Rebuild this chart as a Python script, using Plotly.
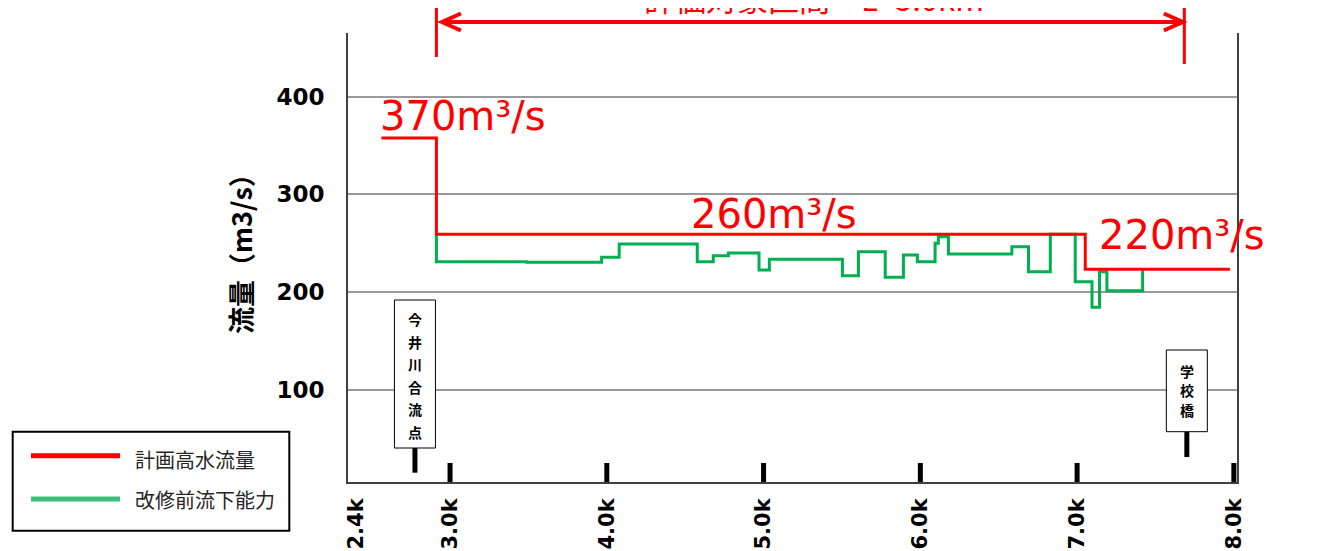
import plotly.graph_objects as go

# ---------------- data ----------------
series_names = ["計画高水流量", "改修前流下能力"]

# 計画高水流量 (step line, values at start of each step)
red_km = [2.562, 2.913, 7.052, 7.975]
red_q = [357.6, 259.0, 223.2, 223.2]

# 改修前流下能力 (step line)
green_km = [2.913, 2.913, 3.488, 3.967, 4.079, 4.577, 4.679, 4.775, 4.971, 5.037,
            5.503, 5.605, 5.776, 5.892, 5.981, 6.094, 6.115, 6.179, 6.584, 6.690,
            6.829, 6.988, 7.095, 7.143, 7.190, 7.418]
green_q = [259.0, 231.0, 230.4, 235.5, 249.1, 231.0, 237.2, 239.9, 222.5, 233.5,
           216.7, 241.3, 215.1, 237.9, 231.0, 249.8, 256.6, 238.9, 246.4, 220.8,
           259.0, 210.6, 184.4, 220.8, 201.3, 223.0]

x_tick_vals = [2.4, 3, 4, 5, 6, 7, 8]
x_tick_text = ["2.4k", "3.0k", "4.0k", "5.0k", "6.0k", "7.0k", "8.0k"]
x_mark_vals = [3, 4, 5, 6, 7, 8]
y_tick_vals = [100, 200, 300, 400]
y_tick_text = ["100", "200", "300", "400"]

flow_labels = ["370m³/s", "260m³/s", "220m³/s"]
landmark_names = ["今井川合流点", "学校橋"]
landmark_km = [2.776, 7.70]
section_km = [2.913, 7.684]
section_label = "評価対象区間　L=5.0km"
y_title = "流量（m3/s）"

# ---------------- layout helpers ----------------
OFF = 8  # page body margin
W_PX, H_PX = 1335 - OFF, 551 - OFF
L, R, T, B = 348, 1237, 33, 482          # screen pixels of the plot area
PW, PH = R - L, B - T
X_RANGE = [2.349, 8.02]
Y_RANGE = [5.6, 465.0]


def px(x):
    return (x - L) / PW


def py(y):
    return (B - y) / PH


def km_to_px(k):
    return L + (k - X_RANGE[0]) / (X_RANGE[1] - X_RANGE[0]) * PW


RED = "#FF0000"
GREEN = "#00B050"
CJK = "Noto Sans CJK JP"
NUMF = "DejaVu Sans"

fig = go.Figure()
fig.add_trace(go.Scatter(x=green_km, y=green_q, mode="lines", line_shape="hv",
                         line=dict(color=GREEN, width=3), name=series_names[1],
                         showlegend=False))
fig.add_trace(go.Scatter(x=red_km, y=red_q, mode="lines", line_shape="hv",
                         line=dict(color=RED, width=3), name=series_names[0],
                         showlegend=False))

shapes = []
annotations = []

# thick tick marks on x axis
for k in x_mark_vals:
    shapes.append(dict(type="line", xref="x", yref="paper", x0=k, x1=k,
                       y0=0, y1=19 / PH, line=dict(color="black", width=5)))

# landmark boxes
box_specs = [
    dict(y0=300, y1=448, stem_end=472.7, char_y0=319.2, pitch=22.5),
    dict(y0=350, y1=431.7, stem_end=457, char_y0=370.5, pitch=19.5),
]
half_w_km = 20.5 / PW * (X_RANGE[1] - X_RANGE[0])
for name, k, spec in zip(landmark_names, landmark_km, box_specs):
    shapes.append(dict(type="line", xref="x", yref="paper", x0=k, x1=k,
                       y0=py(spec["y1"]), y1=py(spec["stem_end"]),
                       line=dict(color="black", width=5), layer="above"))
    shapes.append(dict(type="rect", xref="x", yref="paper",
                       x0=k - half_w_km, x1=k + half_w_km,
                       y0=py(spec["y0"]), y1=py(spec["y1"]),
                       line=dict(color="black", width=1), fillcolor="white",
                       layer="above"))
    for i, ch in enumerate(name):
        annotations.append(dict(xref="x", yref="paper", x=k,
                                y=py(spec["char_y0"] + i * spec["pitch"]),
                                text=ch, showarrow=False,
                                xanchor="center", yanchor="middle",
                                font=dict(family=CJK, size=14, color="black",
                                          weight="bold")))

# evaluation section markers
shapes.append(dict(type="line", xref="x", yref="paper", x0=section_km[0], x1=section_km[0],
                   y0=py(-2), y1=py(57), line=dict(color=RED, width=3)))
shapes.append(dict(type="line", xref="x", yref="paper", x0=section_km[1], x1=section_km[1],
                   y0=py(-2), y1=py(64), line=dict(color=RED, width=3)))
xl = km_to_px(section_km[0]) + 5.5
xr = km_to_px(section_km[1]) - 1.5
ya = 22
shapes.append(dict(type="line", xref="paper", yref="paper", x0=px(xl), x1=px(xr),
                   y0=py(ya), y1=py(ya), line=dict(color=RED, width=4)))
shapes.append(dict(type="path", xref="paper", yref="paper",
                   path=f"M {px(xl + 19)},{py(ya - 8.5)} L {px(xl)},{py(ya)} L {px(xl + 19)},{py(ya + 8.5)}",
                   line=dict(color=RED, width=4)))
shapes.append(dict(type="path", xref="paper", yref="paper",
                   path=f"M {px(xr - 19)},{py(ya - 8.5)} L {px(xr)},{py(ya)} L {px(xr - 19)},{py(ya + 8.5)}",
                   line=dict(color=RED, width=4)))
annotations.append(dict(xref="paper", yref="paper", x=px(813.5), y=py(22),
                        text=section_label, showarrow=False,
                        xanchor="center", yanchor="bottom",
                        font=dict(family=CJK, size=31, color=RED)))

# flow value labels
for txt, (cx, cy) in zip(flow_labels, [(462.5, 116), (773.5, 214), (1181.5, 235)]):
    annotations.append(dict(xref="paper", yref="paper", x=px(cx), y=py(cy),
                            text=txt, showarrow=False, xanchor="center",
                            yanchor="middle",
                            font=dict(family=NUMF, size=40, color=RED)))

# y axis title
annotations.append(dict(xref="paper", yref="paper", x=px(240), y=py(247),
                        text=y_title, textangle=-90, showarrow=False,
                        xanchor="center", yanchor="middle",
                        font=dict(family=CJK, size=27, color="black", weight="bold")))

# manual legend
shapes.append(dict(type="rect", xref="paper", yref="paper",
                   x0=px(12.7), x1=px(289.3), y0=py(431.7), y1=py(530.7),
                   line=dict(color="black", width=2), fillcolor="white"))
leg_colors = [RED, "rgb(60,190,120)"]
leg_y = [455.7, 499]
leg_text_y = [459.3, 499]
for name, c, ly, ty in zip(series_names, leg_colors, leg_y, leg_text_y):
    shapes.append(dict(type="line", xref="paper", yref="paper",
                       x0=px(31), x1=px(120), y0=py(ly), y1=py(ly),
                       line=dict(color=c, width=5)))
    annotations.append(dict(xref="paper", yref="paper", x=px(132.7), y=py(ty),
                            text=name, showarrow=False, xanchor="left",
                            yanchor="middle",
                            font=dict(family=CJK, size=20, color="#262626")))

fig.update_layout(
    width=W_PX, height=H_PX, autosize=False,
    margin=dict(l=L - OFF, r=W_PX - (R - OFF), t=T - OFF, b=H_PX - (B - OFF), pad=0),
    paper_bgcolor="white", plot_bgcolor="white",
    showlegend=False,
    shapes=shapes, annotations=annotations,
    xaxis=dict(range=X_RANGE, tickmode="array", tickvals=x_tick_vals,
               ticktext=x_tick_text, tickangle=-90, ticks="", automargin=False,
               showgrid=False, zeroline=False, showline=True,
               linecolor="#404040", linewidth=2, ticklabelstandoff=6,
               tickfont=dict(family=NUMF, size=21, color="black", weight="bold")),
    yaxis=dict(range=Y_RANGE, tickmode="array", tickvals=y_tick_vals,
               ticktext=y_tick_text, ticks="", showgrid=True, automargin=False,
               gridcolor="#9a9a9a", gridwidth=1.5, zeroline=False,
               showline=True, mirror=True, linecolor="#404040", linewidth=2,
               ticklabelstandoff=17,
               tickfont=dict(family=NUMF, size=23, color="black", weight="bold")),
)

fig.write_html("out.html")
